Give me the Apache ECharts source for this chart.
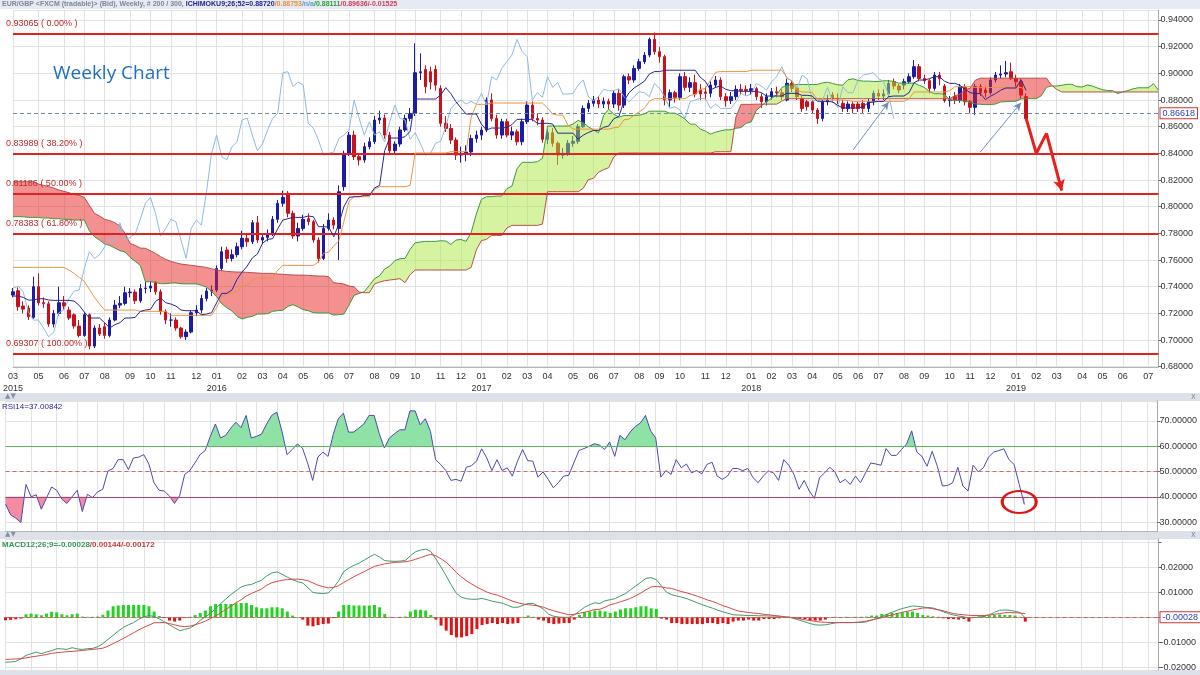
<!DOCTYPE html>
<html><head><meta charset="utf-8">
<script src="https://cdn.jsdelivr.net/npm/echarts@6/dist/echarts.min.js"></script>
<style>html,body{margin:0;padding:0;background:#fff}#c{width:1200px;height:675px}</style>
</head><body><div id="c"></div>
<script>
// ---------------- DATA ----------------
// weekly bars: 200 real bars + 26 future periods for the projected cloud
const firstWeek = '2015-03-29';
const totalPeriods = 226;

const opens = [
.7338,.7370,.7255,.7240,.7170,.7400,.7280,.7272,.7120,.7200,
.7280,.7225,.7190,.7105,.7035,.7190,.6955,.7090,.7100,.7035,
.7150,.7262,.7275,.7355,.7360,.7295,.7387,.7390,.7430,.7362,
.7213,.7150,.7150,.7090,.7025,.7060,.7205,.7225,.7312,.7367,
.7375,.7537,.7675,.7612,.7640,.7700,.7763,.7737,.7880,.7750,
.7770,.7795,.7905,.8025,.8100,.7950,.7780,.7837,.7910,.7887,
.7750,.7612,.7837,.7900,.7837,.8150,.8400,.8537,.8375,.8350,
.8450,.8487,.8650,.8665,.8537,.8420,.8470,.8575,.8662,.8700,
.9005,.9030,.9012,.9030,.8887,.8625,.8587,.8500,.8387,.8400,
.8410,.8512,.8537,.8575,.8800,.8662,.8537,.8637,.8537,.8562,
.8487,.8637,.8762,.8662,.8650,.8505,.8555,.8475,.8387,.8400,
.8475,.8490,.8600,.8737,.8775,.8800,.8770,.8790,.8770,.8850,
.8762,.8975,.8950,.9037,.9087,.9137,.9255,.9162,.9125,.8800,
.8855,.8820,.8975,.8895,.8930,.8875,.8860,.8850,.8912,.8950,
.8825,.8795,.8825,.8880,.8880,.8870,.8885,.8825,.8787,.8825,
.8862,.8855,.8800,.8925,.8887,.8812,.8787,.8787,.8725,.8662,
.8787,.8837,.8812,.8775,.8737,.8770,.8770,.8775,.8737,.8787,
.8850,.8830,.8845,.8937,.8905,.8912,.8937,.8975,.9050,.8962,
.8945,.8887,.8987,.8905,.8795,.8825,.8800,.8895,.8787,.8745,
.8900,.8875,.8855,.8950,.8987,.8995,.9012,.8962,.8937,.8825];

const closes = [
.7362,.7250,.7232,.7175,.7400,.7280,.7272,.7120,.7200,.7280,
.7255,.7165,.7105,.7035,.7190,.6955,.7090,.7045,.7035,.7150,
.7262,.7275,.7355,.7360,.7295,.7387,.7390,.7405,.7362,.7213,
.7150,.7150,.7090,.7025,.7060,.7205,.7225,.7312,.7367,.7375,
.7537,.7662,.7612,.7640,.7700,.7763,.7737,.7880,.7750,.7770,
.7795,.7905,.8025,.8070,.7950,.7780,.7837,.7905,.7887,.7750,
.7612,.7837,.7900,.7862,.8112,.8400,.8537,.8375,.8350,.8450,
.8487,.8650,.8665,.8537,.8420,.8470,.8575,.8662,.8700,.9005,
.9012,.8900,.8935,.8912,.8625,.8587,.8500,.8387,.8400,.8410,
.8512,.8537,.8575,.8800,.8662,.8537,.8637,.8537,.8562,.8487,
.8637,.8762,.8662,.8650,.8505,.8555,.8475,.8387,.8400,.8475,
.8490,.8600,.8737,.8775,.8800,.8770,.8790,.8770,.8850,.8762,
.8975,.8950,.9037,.9087,.9137,.9255,.9162,.9125,.8800,.8855,
.8820,.8975,.8895,.8930,.8845,.8845,.8850,.8912,.8950,.8825,
.8795,.8825,.8880,.8870,.8870,.8885,.8825,.8787,.8825,.8862,
.8855,.8825,.8925,.8887,.8825,.8737,.8750,.8725,.8662,.8787,
.8800,.8812,.8810,.8737,.8770,.8737,.8737,.8737,.8787,.8850,
.8830,.8845,.8925,.8905,.8875,.8937,.8975,.9050,.8962,.8945,
.8887,.8987,.8960,.8795,.8800,.8800,.8895,.8787,.8745,.8900,
.8855,.8855,.8950,.8987,.8995,.9005,.8962,.8937,.8837,.86618];

const highs = [
.7390,.7395,.7290,.7260,.7475,.7500,.7320,.7290,.7225,.7400,
.7330,.7250,.7200,.7150,.7210,.7200,.7110,.7120,.7130,.7170,
.7300,.7330,.7400,.7390,.7380,.7420,.7440,.7440,.7440,.7380,
.7230,.7200,.7170,.7100,.7080,.7225,.7260,.7340,.7390,.7410,
.7560,.7700,.7700,.7680,.7730,.7820,.7800,.7900,.7930,.7800,
.7830,.7930,.8050,.8120,.8117,.7970,.7880,.7940,.7950,.7900,
.7770,.7870,.7950,.7920,.8160,.8420,.8560,.8570,.8400,.8480,
.8520,.8680,.8720,.8690,.8560,.8490,.8600,.8690,.8740,.9225,
.9150,.9060,.9050,.9060,.8910,.8680,.8620,.8520,.8450,.8460,
.8540,.8570,.8600,.8820,.8850,.8690,.8660,.8660,.8600,.8580,
.8660,.8790,.8790,.8700,.8670,.8580,.8590,.8490,.8440,.8500,
.8530,.8620,.8760,.8800,.8830,.8830,.8820,.8810,.8870,.8880,
.8990,.9000,.9060,.9110,.9160,.9270,.93065,.9200,.9140,.8880,
.8870,.9000,.9010,.8970,.8990,.8920,.8900,.8940,.8980,.8970,
.8850,.8860,.8910,.8920,.8910,.8920,.8900,.8850,.8850,.8890,
.8900,.8880,.8960,.8950,.8900,.8830,.8800,.8800,.8740,.8800,
.8840,.8860,.8850,.8800,.8790,.8790,.8790,.8800,.8810,.8870,
.8880,.8880,.8950,.8960,.8920,.8960,.9000,.9100,.9070,.8990,
.8960,.9010,.9010,.8920,.8830,.8860,.8920,.8920,.8800,.8920,
.8920,.8900,.8970,.9010,.9060,.9093,.9080,.8990,.8960,.8850];

const lows = [
.7320,.7220,.7200,.7150,.7160,.7260,.7240,.7100,.7095,.7180,
.7230,.7150,.7085,.7020,.7025,.69307,.6940,.7030,.7010,.7020,
.7140,.7240,.7260,.7320,.7270,.7280,.7350,.7360,.7340,.7190,
.7120,.7100,.7070,.7010,.7000,.7050,.7180,.7200,.7290,.7330,
.7360,.7520,.7580,.7590,.7620,.7680,.7700,.7720,.7730,.7720,
.7740,.7780,.7880,.8000,.7920,.7760,.7740,.7820,.7860,.7730,
.7580,.7600,.7820,.7830,.7600,.8120,.8380,.8350,.8310,.8330,
.8430,.8470,.8620,.8510,.8400,.8390,.8450,.8560,.8640,.8680,
.8950,.8850,.8880,.8870,.8600,.8560,.8470,.8350,.8330,.8340,
.8380,.8480,.8500,.8560,.8640,.8510,.8510,.8520,.8500,.8460,
.8460,.8620,.8640,.8610,.8480,.8470,.8450,.8313,.8360,.8380,
.8450,.8470,.8590,.8710,.8750,.8740,.8740,.8730,.8740,.8720,
.8740,.8920,.8930,.9020,.9070,.9120,.9140,.9080,.8760,.8740,
.8780,.8800,.8870,.8860,.8820,.8800,.8800,.8820,.8890,.8800,
.8750,.8770,.8800,.8840,.8840,.8840,.8800,.8740,.8760,.8800,
.8820,.8800,.8790,.8860,.8800,.8710,.8720,.8700,.86207,.8640,
.8760,.8780,.8770,.8710,.8710,.8700,.8710,.8700,.8710,.8760,
.8800,.8800,.8820,.8880,.8850,.8880,.8920,.8960,.8940,.8920,
.8850,.8870,.8910,.8780,.8750,.8770,.8780,.8760,.8700,.8687,
.8830,.8820,.8840,.8930,.8960,.8970,.8950,.8900,.8810,.8651];

// Ichimoku values at the left edge (their look-back lies before the first shown bar)
const tenkanEarly = [.7330,.7330,.7320,.7300,.7300,.7310,.7310,.7300];
const kijunEarly = [.7545,.7545,.7545,.7545,.7545,.7545,.7545,.7545,.7545,.7545,.7545,
  .7525,.7500,.7470,.7440,.7380,.7320,.7270,.7225,.7225,.7225,.7225,.7225,.7225,.7225];
const spanAEarly = [.7925,.7925,.7925,.7920,.7920,.7920,.7915,.7915,.7910,.7910,.7905,.7905,.7900,
  .7900,.7900,.7820,.7775,.7750,.7720,.7710,.7690,.7670,.7660,.7620,.7590,.7560];
const spanBEarly = [.8187,.8187,.8187,.8187,.8187,.8170,.8160,.8150,.8140,.8125,.8115,.8105,.8090,
  .8085,.8070,.8010,.7950,.7930,.7905,.7895,.7880,.7855,.7800,.7725,.7710,.7690,.7688,.7670,.7650,
  .7625,.7605,.7590,.7580,.7570,.7565,.7560,.7555,.7550,.7545,.7535,.7525,.7520,.7515,.7512,.7510,
  .7510,.7508,.7505,.7503,.7500,.7500,.7500,.7495,.7493,.7490,.7488,.7487,.7487,.7485,.7483,.7480,
  .7480,.7475,.7430,.7425,.7420,.7405,.7400,.7360,.7355,.7355,.7420,.7435,.7445,.7450,.7455,.7460];

const rsi = [
37.1,32.9,31.6,29.9,44.9,40.0,40.8,35.1,39.5,43.9,
42.6,39.1,37.4,40.0,42.6,34.2,41.0,39.7,42.0,43.0,
50.2,51.2,54.7,54.7,50.8,55.4,55.7,56.7,53.0,45.6,
42.6,42.3,40.4,37.4,40.4,48.9,50.4,53.4,56.7,58.3,
63.9,68.8,63.3,64.3,67.2,69.5,67.4,72.2,63.3,63.9,
64.8,68.8,72.2,73.5,65.9,56.7,58.7,60.9,59.3,53.4,
46.5,55.7,57.7,56.0,64.6,70.9,73.1,65.6,65.6,67.2,
68.8,72.2,72.2,65.0,59.3,63.3,65.0,66.5,66.5,74.0,
74.0,68.5,70.9,65.9,54.7,52.8,50.4,46.5,46.9,46.2,
51.7,52.3,54.1,59.0,55.4,50.4,54.7,50.4,51.5,48.2,
54.1,58.7,54.3,54.1,47.8,49.9,46.9,43.6,45.6,48.2,
48.5,53.4,58.3,59.1,60.0,61.0,60.5,58.7,61.7,56.0,
64.3,62.6,65.6,67.8,69.2,72.2,66.1,63.3,47.8,50.4,
48.9,54.7,51.5,53.0,49.5,50.4,49.1,52.8,53.7,48.2,
46.9,48.2,51.2,51.2,50.4,51.2,47.6,45.6,48.2,50.2,
49.5,46.5,54.7,52.5,48.9,43.0,46.5,42.3,39.4,47.6,
49.5,51.7,49.9,45.6,46.9,44.9,48.2,45.6,49.5,53.4,
53.0,52.5,59.1,56.4,56.4,58.7,60.9,66.1,57.7,56.0,
52.1,58.0,52.1,44.3,44.5,45.6,51.7,44.3,42.3,52.5,
49.9,51.5,55.7,57.7,58.3,59.0,54.7,52.8,44.9,37.00842];

const macd = [
-0.0179,-0.0178,-0.0176,-0.0165,-0.0152,-0.0145,-0.0139,-0.0145,-0.0138,-0.0133,
-0.0125,-0.0126,-0.0128,-0.0121,-0.0126,-0.0128,-0.0125,-0.0124,-0.0117,-0.0105,
-0.0088,-0.0072,-0.0055,-0.0040,-0.0030,-0.0021,-0.0008,0.0002,0.0007,0.0003,
-0.0006,-0.0018,-0.0030,-0.0042,-0.0053,-0.0048,-0.0043,-0.0030,-0.0012,0.0002,
0.0015,0.0035,0.0055,0.0073,0.0091,0.0106,0.0121,0.0128,0.0131,0.0140,
0.0148,0.0165,0.0177,0.0181,0.0171,0.0160,0.0150,0.0142,0.0137,0.0118,
0.0099,0.0096,0.0095,0.0097,0.0118,0.0145,0.0182,0.0196,0.0207,0.0216,
0.0228,0.0240,0.0251,0.0240,0.0226,0.0224,0.0223,0.0224,0.0226,0.0245,
0.0261,0.0268,0.0272,0.0262,0.0232,0.0200,0.0165,0.0128,0.0095,0.0080,
0.0074,0.0072,0.0072,0.0075,0.0070,0.0064,0.0060,0.0056,0.0048,0.0040,
0.0040,0.0048,0.0055,0.0055,0.0045,0.0032,0.0012,0.0004,0.0001,0.0000,
0.0000,0.0010,0.0025,0.0040,0.0050,0.0058,0.0055,0.0066,0.0070,0.0075,
0.0085,0.0095,0.0110,0.0125,0.0140,0.0155,0.0158,0.0150,0.0125,0.0100,
0.0090,0.0085,0.0080,0.0074,0.0066,0.0058,0.0050,0.0043,0.0036,0.0028,
0.0022,0.0016,0.0010,0.0009,0.0008,0.0007,0.0007,0.0006,0.0006,0.0005,
0.0005,0.0004,0.0002,0.0000,-0.0006,-0.0012,-0.0018,-0.0025,-0.0030,-0.0031,
-0.0030,-0.0026,-0.0022,-0.0021,-0.0021,-0.0021,-0.0021,-0.0021,-0.0018,-0.0011,
-0.0005,0.0003,0.0012,0.0020,0.0028,0.0035,0.0040,0.0045,0.0044,0.0041,
0.0039,0.0037,0.0030,0.0022,0.0015,0.0009,0.0005,0.0002,-0.0003,-0.0001,
0.0000,0.0005,0.0010,0.0020,0.0028,0.0029,0.0028,0.0024,0.0019,-0.00028];

const signal = [
-0.0168,-0.0167,-0.0166,-0.0165,-0.0162,-0.0158,-0.0155,-0.0152,-0.0148,-0.0144,
-0.0141,-0.0139,-0.0137,-0.0136,-0.0134,-0.0132,-0.0130,-0.0128,-0.0126,-0.0123,
-0.0115,-0.0105,-0.0095,-0.0084,-0.0073,-0.0062,-0.0050,-0.0040,-0.0031,-0.0022,
-0.0021,-0.0021,-0.0025,-0.0030,-0.0035,-0.0037,-0.0035,-0.0030,-0.0023,-0.0015,
-0.0005,0.0005,0.0018,0.0031,0.0045,0.0058,0.0070,0.0085,0.0095,0.0104,
0.0113,0.0128,0.0138,0.0143,0.0148,0.0150,0.0152,0.0152,0.0150,0.0146,
0.0137,0.0128,0.0122,0.0117,0.0119,0.0126,0.0139,0.0150,0.0162,0.0172,
0.0182,0.0193,0.0203,0.0208,0.0213,0.0216,0.0219,0.0220,0.0221,0.0225,
0.0231,0.0238,0.0245,0.0251,0.0245,0.0233,0.0219,0.0200,0.0178,0.0160,
0.0145,0.0132,0.0120,0.0110,0.0100,0.0093,0.0088,0.0080,0.0072,0.0064,
0.0058,0.0053,0.0050,0.0048,0.0045,0.0040,0.0032,0.0026,0.0020,0.0015,
0.0010,0.0012,0.0016,0.0020,0.0025,0.0031,0.0032,0.0040,0.0050,0.0055,
0.0062,0.0068,0.0076,0.0086,0.0097,0.0110,0.0121,0.0123,0.0121,0.0117,
0.0115,0.0108,0.0102,0.0097,0.0091,0.0084,0.0077,0.0069,0.0063,0.0055,
0.0046,0.0040,0.0032,0.0025,0.0022,0.0019,0.0017,0.0015,0.0012,0.0010,
0.0007,0.0005,0.0002,0.0000,-0.0003,-0.0006,-0.0010,-0.0013,-0.0016,-0.0019,
-0.0020,-0.0021,-0.0021,-0.0021,-0.0021,-0.0021,-0.0020,-0.0018,-0.0015,-0.0011,
-0.0006,-0.0002,0.0005,0.0009,0.0015,0.0020,0.0024,0.0029,0.0033,0.0037,
0.0037,0.0034,0.0030,0.0026,0.0020,0.0015,0.0012,0.0010,0.0008,0.0007,
0.0007,0.0007,0.0009,0.0012,0.0015,0.0018,0.0019,0.0018,0.0017,0.00144];

const hist = [
-0.0012,-0.0010,-0.0008,-0.0005,0.0012,0.0015,0.0012,0.0008,0.0015,0.0022,
0.0020,0.0012,0.0008,0.0012,0.0015,0.0003,0.0002,0.0002,0.0003,0.0010,
0.0027,0.0044,0.0047,0.0049,0.0049,0.0049,0.0049,0.0049,0.0044,0.0023,
0.0005,-0.0003,-0.0013,-0.0017,-0.0013,-0.0003,0.0002,0.0009,0.0017,0.0027,
0.0044,0.0053,0.0053,0.0053,0.0053,0.0056,0.0057,0.0057,0.0049,0.0040,
0.0036,0.0036,0.0040,0.0040,0.0036,0.0023,0.0007,0.0001,-0.0009,-0.0033,
-0.0036,-0.0031,-0.0027,-0.0025,-0.0003,0.0023,0.0049,0.0049,0.0047,0.0047,
0.0047,0.0047,0.0049,0.0040,0.0013,0.0002,0.0001,0.0002,0.0003,0.0023,
0.0030,0.0030,0.0027,0.0009,-0.0009,-0.0033,-0.0053,-0.0071,-0.0080,-0.0080,
-0.0075,-0.0067,-0.0047,-0.0031,-0.0027,-0.0023,-0.0027,-0.0023,-0.0027,-0.0025,
-0.0023,0.0002,0.0007,0.0002,-0.0009,-0.0013,-0.0023,-0.0027,-0.0025,-0.0023,
-0.0023,-0.0009,0.0009,0.0020,0.0023,0.0027,0.0027,0.0023,0.0017,0.0023,
0.0031,0.0036,0.0036,0.0040,0.0044,0.0044,0.0036,0.0033,-0.0005,-0.0009,
-0.0023,-0.0023,-0.0027,-0.0027,-0.0027,-0.0027,-0.0027,-0.0023,-0.0023,-0.0027,
-0.0023,-0.0027,-0.0017,-0.0013,-0.0013,-0.0009,-0.0013,-0.0013,-0.0007,-0.0007,
-0.0007,-0.0004,0.0000,0.0002,-0.0004,-0.0007,-0.0007,-0.0013,-0.0013,-0.0013,
-0.0009,0.0001,0.0002,0.0001,0.0002,0.0001,0.0002,0.0002,0.0003,0.0007,
0.0007,0.0013,0.0013,0.0017,0.0017,0.0020,0.0023,0.0023,0.0017,0.0009,
0.0007,0.0004,0.0002,-0.0004,-0.0007,-0.0007,-0.0009,-0.0007,-0.0017,0.0002,
0.0004,0.0007,0.0007,0.0009,0.0011,0.0009,0.0009,0.0007,0.0002,-0.00172];

// Fibonacci retracement levels drawn on the chart
const fibLevels = [0.93065, 0.83989, 0.81186, 0.78383, 0.69307];
const fibLabels = ['0.93065 ( 0.00% )', '0.83989 ( 38.20% )', '0.81186 ( 50.00% )', '0.78383 ( 61.80% )', '0.69307 ( 100.00% )'];
const lastPrice = 0.86618;
const rsiLevels = [60, 50, 40];
// hand-drawn annotations (bar index, value)
const zigzag = [[199, 0.8662], [201, 0.8400], [203, 0.8550], [206, 0.8120]];
const blueArrows = [[[165, 0.8425], [172, 0.8785]], [[190, 0.8410], [198, 0.8780]]];
const rsiCircle = [198, 38];

// ---------------- derived tables ----------------
const categories = [];
{
  const t0 = Date.parse(firstWeek + 'T00:00:00Z');
  for (let i = 0; i < totalPeriods; i++) categories.push(new Date(t0 + i * 7 * 864e5).toISOString().slice(0, 10));
}
const monthTicks = new Set();
{
  let last = -10;
  for (let i = 0; i < categories.length; i++) {
    if (i === 0 || categories[i].slice(5, 7) !== categories[i - 1].slice(5, 7)) {
      if (i - last >= 3) { monthTicks.add(i); last = i; }
    }
  }
}
const nBars = closes.length;
function midHL(end, len) {
  let hh = -Infinity, ll = Infinity;
  for (let k = end - len + 1; k <= end; k++) { hh = Math.max(hh, highs[k]); ll = Math.min(ll, lows[k]); }
  return (hh + ll) / 2;
}
const tenkan = closes.map((_, i) => i < tenkanEarly.length ? tenkanEarly[i] : midHL(i, 9));
const kijun = closes.map((_, i) => i < kijunEarly.length ? kijunEarly[i] : midHL(i, 26));
const spanA = [], spanB = [];
for (let j = 0; j < totalPeriods; j++) {
  spanA.push(j < spanAEarly.length ? spanAEarly[j] : (tenkan[j - 26] + kijun[j - 26]) / 2);
  spanB.push(j < spanBEarly.length ? spanBEarly[j] : midHL(j - 26, 52));
}
const chikou = categories.map((_, j) => (j + 26 < nBars ? closes[j + 26] : null));
const ohlc = opens.map((o, i) => [o, closes[i], lows[i], highs[i]]);

// ---------------- helpers ----------------
function bandRuns(api, n, up, lo, posColor, negColor) {
  const children = [];
  let run = null;
  const flush = () => {
    if (run && run.color && run.up.length > 1) {
      children.push({ type: 'polygon', silent: true, shape: { points: run.up.concat(run.lo.slice().reverse()) }, style: { fill: run.color } });
    }
    run = null;
  };
  for (let j = 0; j < n; j++) {
    const u = up(j), l = lo(j);
    if (u == null || l == null) { flush(); continue; }
    const U = api.coord([j, u]), L = api.coord([j, l]);
    const pos = u >= l;
    if (!run) { run = { pos, color: pos ? posColor : negColor, up: [U], lo: [L] }; continue; }
    if (run.pos === pos) { run.up.push(U); run.lo.push(L); continue; }
    const dp = up(j - 1) - lo(j - 1), dc = u - l;
    const t = dp / (dp - dc);
    const PU = run.up[run.up.length - 1];
    const P = [PU[0] + t * (U[0] - PU[0]), PU[1] + t * (U[1] - PU[1])];
    run.up.push(P); run.lo.push(P);
    flush();
    run = { pos, color: pos ? posColor : negColor, up: [P, U], lo: [P, L] };
  }
  flush();
  return { type: 'group', children };
}

const FONT = "'Liberation Sans',Arial,sans-serif";
const gridL = 5.5, gridR = 41.5;

function xAxisFor(gi, showLabels) {
  return {
    type: 'category', gridIndex: gi, data: categories, boundaryGap: false,
    axisLine: { show: true, lineStyle: { color: '#b4b4b4' } },
    axisTick: { show: false },
    axisLabel: {
      show: showLabels, interval: (idx) => monthTicks.has(idx), color: '#333', fontSize: 9, fontFamily: FONT,
      lineHeight: 12, margin: 4,
      formatter: (v, idx) => { const m = v.slice(5, 7); return (m === '01' || idx === 0) ? m + '\n' + v.slice(0, 4) : m; }
    },
    splitLine: { show: true, interval: (idx) => monthTicks.has(idx), lineStyle: { color: '#e2e2e2', width: 1 } }
  };
}
function yAxisFor(gi, min, max, split, fmt) {
  return {
    type: 'value', gridIndex: gi, position: 'right', min, max, splitNumber: split, scale: true,
    axisLine: { show: true, lineStyle: { color: '#a8a8a8' } },
    axisTick: { show: true, length: 3, lineStyle: { color: '#666' } },
    axisLabel: { color: '#333', fontSize: 9, fontFamily: FONT, margin: 2, showMinLabel: false, showMaxLabel: false, formatter: fmt },
    splitLine: { show: true, lineStyle: { color: '#e2e2e2', width: 1 } }
  };
}

const fibMarks = fibLevels.map((v, k) => ({
  yAxis: v, lineStyle: { color: '#e3211f', width: 2, type: 'solid' },
  label: { show: true, formatter: fibLabels[k], position: 'insideStartTop', color: '#c0282a', fontSize: 9, fontFamily: FONT, distance: [-7, 5], padding: 0 }
}));
const priceMark = {
  yAxis: lastPrice, lineStyle: { color: '#6f8c9c', width: 1, type: [4, 3] },
  label: { show: true, position: 'end', distance: 2, formatter: lastPrice.toFixed(5), color: '#2b3fb4', backgroundColor: '#fff',
    borderColor: '#d83131', borderWidth: 1, padding: [1, 2, 0, 2], fontSize: 9, fontFamily: FONT }
};

const zigzagMarks = [];
for (let k = 0; k < zigzag.length - 1; k++) {
  const lastSeg = k === zigzag.length - 2;
  zigzagMarks.push([{ coord: zigzag[k], symbol: 'none' }, { coord: zigzag[k + 1], symbol: lastSeg ? 'arrow' : 'none', symbolSize: [9, 11] }]);
}
const arrowMarks = blueArrows.map(a => [{ coord: a[0], symbol: 'none' }, { coord: a[1], symbol: 'arrow', symbolSize: [6, 8] }]);

const option = {
  animation: false,
  backgroundColor: '#ffffff',
  textStyle: { fontFamily: FONT },
  title: [
    {
      left: 2, top: 1, padding: 0,
      text: '{g|EUR/GBP <FXCM (tradable)> (Bid), Weekly, # 200 / 300, }{n|ICHIMOKU9;26;52=0.88720}{o|/0.88753}{c|/n/a}{gr|/0.88111}{r|/0.89636/-0.01525}',
      textStyle: { rich: {
        g: { color: '#7d8596', fontSize: 7, fontFamily: FONT },
        n: { color: '#1f1f8c', fontSize: 7, fontFamily: FONT, fontWeight: 'bold' },
        o: { color: '#e8913c', fontSize: 7, fontFamily: FONT },
        c: { color: '#5a9ed6', fontSize: 7, fontFamily: FONT },
        gr: { color: '#2f9b3a', fontSize: 7, fontFamily: FONT },
        r: { color: '#d23a5a', fontSize: 7, fontFamily: FONT }
      } }
    },
    { left: 53, top: 64, padding: 0, text: 'Weekly Chart', textStyle: { color: '#1f6fbf', fontSize: 19, fontWeight: 'normal', fontFamily: "'Open Sans',sans-serif" } },
    { left: 2, top: 403, padding: 0, text: 'RSI14=37.00842', textStyle: { color: '#26269a', fontSize: 8, fontWeight: 'normal', fontFamily: FONT } },
    {
      left: 2, top: 541, padding: 0, text: '{g|MACD12;26;9=-0.00028}{r|/0.00144/-0.00172}',
      textStyle: { rich: { g: { color: '#2f9a55', fontSize: 8, fontFamily: FONT }, r: { color: '#d03a3a', fontSize: 8, fontFamily: FONT } } }
    }
  ],
  graphic: [
    { type: 'rect', z: -10, shape: { x: 0, y: 0, width: 1200, height: 9 }, style: { fill: '#e6eaf2' } },
    { type: 'rect', z: -10, shape: { x: 0, y: 393, width: 1200, height: 8 }, style: { fill: '#dce1ea' } },
    { type: 'rect', z: -10, shape: { x: 0, y: 531, width: 1200, height: 8 }, style: { fill: '#dce1ea' } },
    { type: 'rect', z: -10, shape: { x: 0, y: 670, width: 1200, height: 5 }, style: { fill: '#dce1ea' } },
    { type: 'text', x: 5, y: 393, style: { text: '▲▼', fill: '#8190ad', font: "7px 'DejaVu Sans'" } },
    { type: 'text', x: 5, y: 531, style: { text: '▲▼', fill: '#8190ad', font: "7px 'DejaVu Sans'" } },
    { type: 'text', x: 1191, y: 393, style: { text: 'x', fill: '#8190ad', font: "8px 'DejaVu Sans'" } },
    { type: 'text', x: 1191, y: 531, style: { text: 'x', fill: '#8190ad', font: "8px 'DejaVu Sans'" } }
  ],
  grid: [
    { left: gridL, right: gridR, top: 10, height: 357 },
    { left: gridL, right: gridR, top: 401, height: 130 },
    { left: gridL, right: gridR, top: 539, height: 131 }
  ],
  xAxis: [xAxisFor(0, true), xAxisFor(1, false), xAxisFor(2, false)],
  yAxis: [
    yAxisFor(0, 0.6798, 0.9475, 13, v => v.toFixed(5)),
    yAxisFor(1, 26.5, 77.9, 5, v => v.toFixed(5)),
    yAxisFor(2, -0.0210, 0.0312, 5, v => (Math.abs(v) < 1e-9 || v > 0.025) ? '' : v.toFixed(5))
  ],
  series: [
    {
      type: 'candlestick', xAxisIndex: 0, yAxisIndex: 0, data: ohlc, barWidth: 3, z: 2,
      itemStyle: { color: '#1b1ba6', color0: '#c8111b', borderColor: '#1b1ba6', borderColor0: '#c8111b', borderWidth: 1 },
      markLine: { silent: true, symbol: ['none', 'none'], animation: false, data: fibMarks.concat([priceMark]) }
    },
    {
      type: 'custom', xAxisIndex: 0, yAxisIndex: 0, z: 3, silent: true, data: [[0, 0.8]], encode: { x: 0, y: 1 },
      renderItem: (p, api) => bandRuns(api, totalPeriods, j => spanA[j], j => spanB[j], 'rgba(172,232,66,0.5)', 'rgba(232,34,34,0.5)')
    },
    { type: 'line', xAxisIndex: 0, yAxisIndex: 0, data: spanA, showSymbol: false, z: 4, lineStyle: { color: '#3b9a3b', width: 1 } },
    { type: 'line', xAxisIndex: 0, yAxisIndex: 0, data: spanB, showSymbol: false, z: 4, lineStyle: { color: '#b8504c', width: 1 } },
    { type: 'line', xAxisIndex: 0, yAxisIndex: 0, data: chikou, showSymbol: false, z: 4, lineStyle: { color: '#8dbbe4', width: 1 } },
    {
      type: 'line', xAxisIndex: 0, yAxisIndex: 0, data: kijun, showSymbol: false, z: 5, lineStyle: { color: '#ec9440', width: 1 },
      markLine: { silent: true, animation: false, lineStyle: { color: '#e6201b', width: 3, type: 'solid' }, label: { show: false }, data: zigzagMarks }
    },
    {
      type: 'line', xAxisIndex: 0, yAxisIndex: 0, data: tenkan, showSymbol: false, z: 5, lineStyle: { color: '#27278f', width: 1 },
      markLine: { silent: true, animation: false, lineStyle: { color: '#6d8cc8', width: 1, type: 'solid' }, label: { show: false }, data: arrowMarks }
    },
    {
      type: 'custom', xAxisIndex: 1, yAxisIndex: 1, z: 2, silent: true, data: [[0, 50]], encode: { x: 0, y: 1 },
      renderItem: (p, api) => ({ type: 'group', children: [
        bandRuns(api, nBars, j => rsi[j], () => rsiLevels[0], '#8fe2a6', null),
        bandRuns(api, nBars, () => rsiLevels[2], j => rsi[j], '#f48ba3', null)
      ] })
    },
    {
      type: 'line', xAxisIndex: 1, yAxisIndex: 1, data: rsi, showSymbol: false, z: 4, lineStyle: { color: '#4a4ab0', width: 1 },
      markLine: { silent: true, symbol: ['none', 'none'], animation: false, data: [
        { yAxis: rsiLevels[0], lineStyle: { color: '#5cb85c', width: 1, type: 'solid' }, label: { show: false } },
        { yAxis: rsiLevels[1], lineStyle: { color: '#cf6b6b', width: 1, type: [4, 3] }, label: { show: false } },
        { yAxis: rsiLevels[2], lineStyle: { color: '#a8446e', width: 1, type: 'solid' }, label: { show: false } },
        { yAxis: rsi[rsi.length - 1], lineStyle: { opacity: 0 }, label: { show: true, position: 'end', distance: 2, formatter: rsi[rsi.length - 1].toFixed(5),
          color: '#2b3fb4', backgroundColor: '#fff', borderColor: '#d83131', borderWidth: 1, padding: [1, 2, 0, 2], fontSize: 9, fontFamily: FONT } }
      ] },
      markPoint: { silent: true, animation: false, label: { show: false }, data: [
        { coord: rsiCircle, symbol: 'circle', symbolSize: [34, 22], itemStyle: { color: 'rgba(0,0,0,0)', borderColor: '#e01414', borderWidth: 2.5 } }
      ] }
    },
    {
      type: 'bar', xAxisIndex: 2, yAxisIndex: 2, barWidth: 3, z: 2,
      data: hist.map(v => ({ value: v, itemStyle: { color: v >= 0 ? '#21d421' : '#e01212' } }))
    },
    { type: 'line', xAxisIndex: 2, yAxisIndex: 2, data: macd, showSymbol: false, z: 4, lineStyle: { color: '#3e9b6b', width: 1 } },
    {
      type: 'line', xAxisIndex: 2, yAxisIndex: 2, data: signal, showSymbol: false, z: 4, lineStyle: { color: '#d84848', width: 1 },
      markLine: { silent: true, symbol: ['none', 'none'], animation: false, data: [
        { yAxis: macd[macd.length - 1], lineStyle: { color: '#cc5f5f', width: 1, type: [4, 3] },
          label: { show: true, position: 'end', distance: 2, formatter: macd[macd.length - 1].toFixed(5), color: '#2b3fb4', backgroundColor: '#fff',
            borderColor: '#d83131', borderWidth: 1, padding: [1, 2, 0, 2], fontSize: 9, fontFamily: FONT } }
      ] }
    }
  ]
};

const chart = echarts.init(document.getElementById('c'));
chart.setOption(option);
</script></body></html>
